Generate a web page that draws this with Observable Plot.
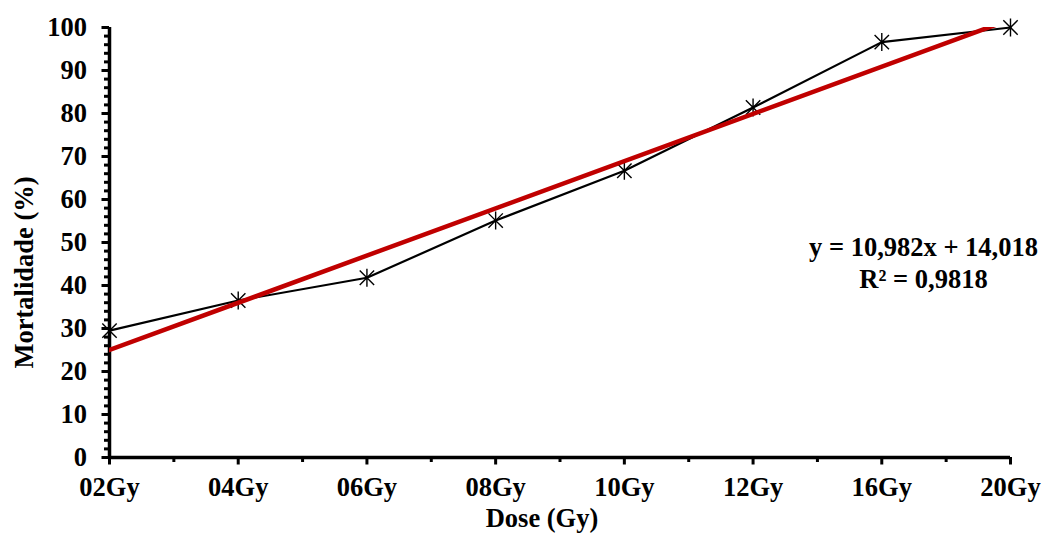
<!DOCTYPE html>
<html>
<head>
<meta charset="utf-8">
<script src="https://cdn.jsdelivr.net/npm/d3@7"></script>
<script src="https://cdn.jsdelivr.net/npm/@observablehq/plot@0.6"></script>
<style>
  html, body { margin: 0; padding: 0; background: #ffffff; }
</style>
</head>
<body>
<div id="chart"></div>
<script>
// Irradiation dose categories and observed mortality (%)
const doses = ["02Gy", "04Gy", "06Gy", "08Gy", "10Gy", "12Gy", "16Gy", "20Gy"];
const mortality = [29.5, 36.5, 41.8, 55.1, 66.7, 81.4, 96.6, 100];

// Linear trend fitted on category position (1..8)
const slope = 10.982;
const intercept = 14.018;
const rSquared = 0.9818;

// Y axis ticks
const yMajorTicks = [0, 10, 20, 30, 40, 50, 60, 70, 80, 90, 100];
const yMinorStep = 2;

const rows = doses.map((dose, i) => ({ dose, pos: i + 1, mortality: mortality[i] }));
const positions = rows.map(d => d.pos);
const minorX = positions.slice(0, -1).map(p => p + 0.5);
const minorY = d3.range(0, 100 + yMinorStep, yMinorStep);
const trend = [positions[0], positions[positions.length - 1]].map(x => ({ x, y: slope * x + intercept }));

const comma = (v, n) => v.toFixed(n).replace(".", ",");
const equation = `y = ${comma(slope, 3)}x + ${comma(intercept, 3)}\nR² = ${comma(rSquared, 4)}`;

// Star marker: an X crossed by a vertical stroke
const star = {
  draw(ctx, size) {
    const r = Math.sqrt(size / Math.PI);
    const d = r * 0.8;
    ctx.moveTo(0, -r); ctx.lineTo(0, r);
    ctx.moveTo(-d, -d); ctx.lineTo(d, d);
    ctx.moveTo(-d, d); ctx.lineTo(d, -d);
  }
};

const font = "'Liberation Serif', 'Times New Roman', serif";
const fs = 26.5;

const chart = Plot.plot({
  width: 1042,
  height: 536,
  marginTop: 27,
  marginRight: 32,
  marginBottom: 79,
  marginLeft: 109,
  style: { fontFamily: font, fontWeight: "bold", fontSize: `${fs}px`, color: "#000", background: "#fff" },
  x: { domain: [1, 8], axis: null },
  y: { domain: [0, 100], axis: null },
  marks: [
    // minor and major ticks
    Plot.axisY(minorY, { tickSize: 5, text: null, stroke: "#000", strokeWidth: 3, strokeOpacity: 1, label: null }),
    Plot.axisY(yMajorTicks, { tickSize: 7.5, tickPadding: 15, stroke: "#000", strokeWidth: 3, strokeOpacity: 1, label: null, fontSize: fs, fontWeight: "bold" }),
    Plot.axisX(minorX, { tickSize: 5, text: null, stroke: "#000", strokeWidth: 3, strokeOpacity: 1, label: null }),
    Plot.axisX(positions, { tickSize: 7.5, tickPadding: 12, stroke: "#000", strokeWidth: 3, strokeOpacity: 1, label: null, fontSize: fs, fontWeight: "bold", tickFormat: p => doses[p - 1] }),
    // axis lines
    Plot.ruleX([1], { stroke: "#000", strokeWidth: 3.5 }),
    Plot.ruleY([0], { x1: 1, x2: 8, stroke: "#000", strokeWidth: 3.5 }),
    // observed mortality
    Plot.line(rows, { x: "pos", y: "mortality", stroke: "#000", strokeWidth: 2.2 }),
    Plot.dot(rows, { x: "pos", y: "mortality", symbol: star, r: 9, stroke: "#000", fill: "none", strokeWidth: 1.4 }),
    // trend line
    Plot.line(trend, { x: "x", y: "y", stroke: "#c00000", strokeWidth: 4.5, clip: true }),
    // equation
    Plot.text([equation], { frameAnchor: "right", dx: -87, dy: 19, lineHeight: 1.2, textAnchor: "middle", fontSize: fs, fontWeight: "bold", fill: "#000" }),
    // axis titles
    Plot.text(["Dose (Gy)"], { frameAnchor: "bottom", dx: -18, dy: 69, textAnchor: "middle", fontSize: fs, fontWeight: "bold", fill: "#000" }),
    Plot.text(["Mortalidade (%)"], { frameAnchor: "left", dx: -85, dy: 30, rotate: -90, textAnchor: "middle", fontSize: fs, fontWeight: "bold", fill: "#000" })
  ]
});

document.getElementById("chart").appendChild(chart);
</script>
</body>
</html>
